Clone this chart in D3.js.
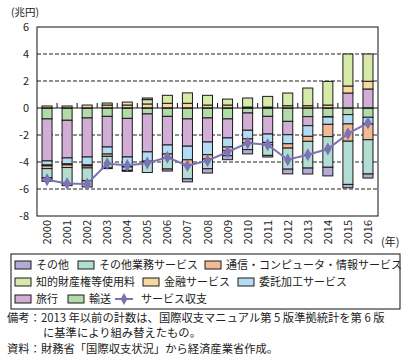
<!DOCTYPE html>
<html>
<head>
<meta charset="utf-8">
<script src="https://cdn.jsdelivr.net/npm/d3@7"></script>
<style>
  body { margin: 0; background: #fff; }
  svg { font-family: "Noto Sans CJK JP", "Noto Sans", sans-serif; }
</style>
</head>
<body>
<div id="chart"></div>
<script>
var years = ['2000', '2001', '2002', '2003', '2004', '2005', '2006', '2007', '2008',
  '2009', '2010', '2011', '2012', '2013', '2014', '2015', '2016']
var yTicks = [-8, -6, -4, -2, 0, 2, 4, 6]
// series values (兆円)
var other = [-0.25, -0.15, -0.47, -0.05, -0.07, 0.12, -0.15, -0.22, -0.32, -0.3, -0.32, -0.12, -0.35, -0.44, -0.64, -0.25, -0.3]
var otherBusiness = [-0.69, -1.19, -0.94, -0.86, -0.25, -0.79, -0.81, -1.04, -0.72, -0.37, -0.49, -0.79, -1.56, -1.98, -2.27, -3.2, -2.54]
var telecom = [-0.2, -0.2, -0.15, -0.17, -0.05, -0.05, -0.3, -0.37, -0.32, -0.27, -0.3, -0.17, -0.32, -0.37, -0.91, -1.28, -1.16]
var ipUse = [-0.07, -0.07, -0.07, 0.15, 0.22, 0.32, 0.59, 0.77, 0.72, 0.44, 0.67, 0.79, 0.94, 1.31, 1.75, 2.37, 2.02]
var finance = [0.15, 0.15, 0.22, 0.22, 0.22, 0.3, 0.35, 0.35, 0.22, 0.22, 0.07, 0.07, 0.17, 0.17, 0.22, 0.52, 0.57]
var processing = [-0.3, -0.44, -0.59, -0.52, -0.69, -0.69, -0.67, -1.01, -0.94, -0.67, -0.64, -0.62, -0.67, -0.79, -0.54, -0.69, -0.5]
var travel = [-3.11, -2.79, -2.89, -2.27, -2.86, -2.81, -2.12, -2.02, -1.78, -1.41, -1.28, -1.31, -0.99, -0.67, -0.03, 1.11, 1.41]
var transport = [-0.81, -0.91, -0.74, -0.62, -0.77, -0.44, -0.62, -0.81, -0.74, -0.81, -0.37, -0.62, -0.99, -0.64, -0.64, -0.49, -0.69]
var serviceBalance = [-5.31, -5.6, -5.63, -4.12, -4.25, -4.07, -3.65, -4.27, -3.9, -3.26, -2.6, -2.72, -3.83, -3.46, -3.04, -1.9, -1.11]

var series = [
  { key: 'その他', values: other, color: '#b3aad7' },
  { key: 'その他業務サービス', values: otherBusiness, color: '#b1ddd2' },
  { key: '通信・コンピュータ・情報サービス', values: telecom, color: '#f2ba95' },
  { key: '知的財産権等使用料', values: ipUse, color: '#d7eaaa' },
  { key: '金融サービス', values: finance, color: '#f9d7a0' },
  { key: '委託加工サービス', values: processing, color: '#b2dbf4' },
  { key: '旅行', values: travel, color: '#d2aed7' },
  { key: '輸送', values: transport, color: '#b1dba9' }
]
var lineName = 'サービス収支'
var lineColor = '#7c72b6'

var svg = d3.select('#chart').append('svg')
  .attr('width', 410)
  .attr('height', 361)

var plot = { left: 37, right: 378, top: 27, bottom: 216 }

var x = d3.scaleBand()
  .domain(years)
  .range([plot.left, plot.right])
  .paddingInner(0.5)
  .paddingOuter(0.25)

var y = d3.scaleLinear()
  .domain([-8, 6])
  .range([plot.bottom, plot.top])

// table for the stack: one row per year
var table = years.map((yr, i) => {
  var row = { year: yr }
  series.forEach(s => { row[s.key] = s.values[i] })
  return row
})
// stacking goes outward from zero starting with 輸送
var stackKeys = series.map(s => s.key).reverse()
var stacked = d3.stack()
  .keys(stackKeys)
  .offset(d3.stackOffsetDiverging)(table)
var colorOf = {}
series.forEach(s => { colorOf[s.key] = s.color })

// gridlines
svg.append('g')
  .selectAll('line')
  .data(yTicks.filter(t => t !== 0 && t !== 6 && t !== -8))
  .enter()
  .append('line')
  .attr('x1', plot.left)
  .attr('x2', plot.right)
  .attr('y1', d => y(d))
  .attr('y2', d => y(d))
  .attr('stroke', '#222')
  .attr('stroke-width', 1)
  .attr('stroke-dasharray', '4,2')

// bars
svg.append('g')
  .selectAll('g')
  .data(stacked)
  .enter()
  .append('g')
  .attr('fill', d => colorOf[d.key])
  .selectAll('rect')
  .data(d => d)
  .enter()
  .append('rect')
  .attr('x', d => x(d.data.year))
  .attr('width', x.bandwidth())
  .attr('y', d => y(Math.max(d[0], d[1])))
  .attr('height', d => Math.abs(y(d[0]) - y(d[1])))
  .attr('stroke', '#1a1a1a')
  .attr('stroke-width', 1)

// zero line with category ticks
svg.append('line')
  .attr('x1', plot.left)
  .attr('x2', plot.right)
  .attr('y1', y(0))
  .attr('y2', y(0))
  .attr('stroke', '#111')
  .attr('stroke-width', 1)

svg.append('g')
  .selectAll('line')
  .data(years.slice(1))
  .enter()
  .append('line')
  .attr('x1', d => x(d) - x.step() * x.paddingInner() / 2)
  .attr('x2', d => x(d) - x.step() * x.paddingInner() / 2)
  .attr('y1', y(0))
  .attr('y2', y(0) - 5)
  .attr('stroke', '#111')

// service balance line
var line = d3.line()
  .x((d, i) => x(years[i]) + x.bandwidth() / 2)
  .y(d => y(d))
svg.append('path')
  .datum(serviceBalance)
  .attr('d', line)
  .attr('fill', 'none')
  .attr('stroke', lineColor)
  .attr('stroke-width', 2)

svg.append('g')
  .selectAll('path')
  .data(serviceBalance)
  .enter()
  .append('path')
  .attr('d', d3.symbol().type(d3.symbolDiamond).size(48))
  .attr('transform', (d, i) => `translate(${x(years[i]) + x.bandwidth() / 2},${y(d)})`)
  .attr('fill', lineColor)

// frame
svg.append('rect')
  .attr('x', plot.left)
  .attr('y', plot.top)
  .attr('width', plot.right - plot.left)
  .attr('height', plot.bottom - plot.top)
  .attr('fill', 'none')
  .attr('stroke', '#111')
  .attr('stroke-width', 1)

// y labels
svg.append('g')
  .selectAll('text')
  .data(yTicks)
  .enter()
  .append('text')
  .attr('x', 29)
  .attr('y', d => y(d))
  .attr('dy', '0.35em')
  .attr('text-anchor', 'end')
  .attr('font-size', 11)
  .attr('fill', '#222')
  .text(d => d)

svg.append('text')
  .attr('x', 11)
  .attr('y', 16)
  .attr('font-size', 10.5)
  .attr('fill', '#222')
  .text('(兆円)')

// x labels rotated
svg.append('g')
  .selectAll('text')
  .data(years)
  .enter()
  .append('text')
  .attr('transform', d => `translate(${x(d) + x.bandwidth() / 2 + 4},220) rotate(-90)`)
  .attr('text-anchor', 'end')
  .attr('font-size', 11)
  .attr('fill', '#222')
  .text(d => d)

svg.append('text')
  .attr('x', 381)
  .attr('y', 246)
  .attr('font-size', 11)
  .attr('fill', '#222')
  .text('(年)')

// legend
var legend = svg.append('g')
legend.append('rect')
  .attr('x', 11)
  .attr('y', 254)
  .attr('width', 389)
  .attr('height', 55)
  .attr('fill', '#fff')
  .attr('stroke', '#111')

var legendItems = [
  { s: series[0], row: 0, x: 15 },
  { s: series[1], row: 0, x: 78 },
  { s: series[2], row: 0, x: 205 },
  { s: series[3], row: 1, x: 15 },
  { s: series[4], row: 1, x: 143 },
  { s: series[5], row: 1, x: 238 },
  { s: series[6], row: 2, x: 15 },
  { s: series[7], row: 2, x: 68 }
]
var rowY = [265, 282, 299]
legendItems.forEach(it => {
  var cy = rowY[it.row]
  legend.append('rect')
    .attr('x', it.x)
    .attr('y', cy - 4)
    .attr('width', 16)
    .attr('height', 8)
    .attr('fill', it.s.color)
    .attr('stroke', '#1a1a1a')
  legend.append('text')
    .attr('x', it.x + 21)
    .attr('y', cy)
    .attr('dy', '0.36em')
    .attr('font-size', 11)
    .attr('fill', '#222')
    .text(it.s.key)
})
legend.append('line')
  .attr('x1', 115)
  .attr('x2', 133)
  .attr('y1', rowY[2])
  .attr('y2', rowY[2])
  .attr('stroke', lineColor)
  .attr('stroke-width', 2)
legend.append('path')
  .attr('d', d3.symbol().type(d3.symbolDiamond).size(40))
  .attr('transform', `translate(124,${rowY[2]})`)
  .attr('fill', lineColor)
legend.append('text')
  .attr('x', 141)
  .attr('y', rowY[2])
  .attr('dy', '0.36em')
  .attr('font-size', 11)
  .attr('fill', '#222')
  .text(lineName)

// notes
var notes = [
  { x: 7, y: 322, t: '備考：2013 年以前の計数は、国際収支マニュアル第 5 版準拠統計を第 6 版' },
  { x: 43, y: 337, t: 'に基準により組み替えたもの。' },
  { x: 7, y: 353, t: '資料：財務省「国際収支状況」から経済産業省作成。' }
]
svg.append('g')
  .selectAll('text')
  .data(notes)
  .enter()
  .append('text')
  .attr('x', d => d.x)
  .attr('y', d => d.y)
  .attr('font-size', 11.3)
  .attr('fill', '#222')
  .text(d => d.t)
</script>
</body>
</html>
